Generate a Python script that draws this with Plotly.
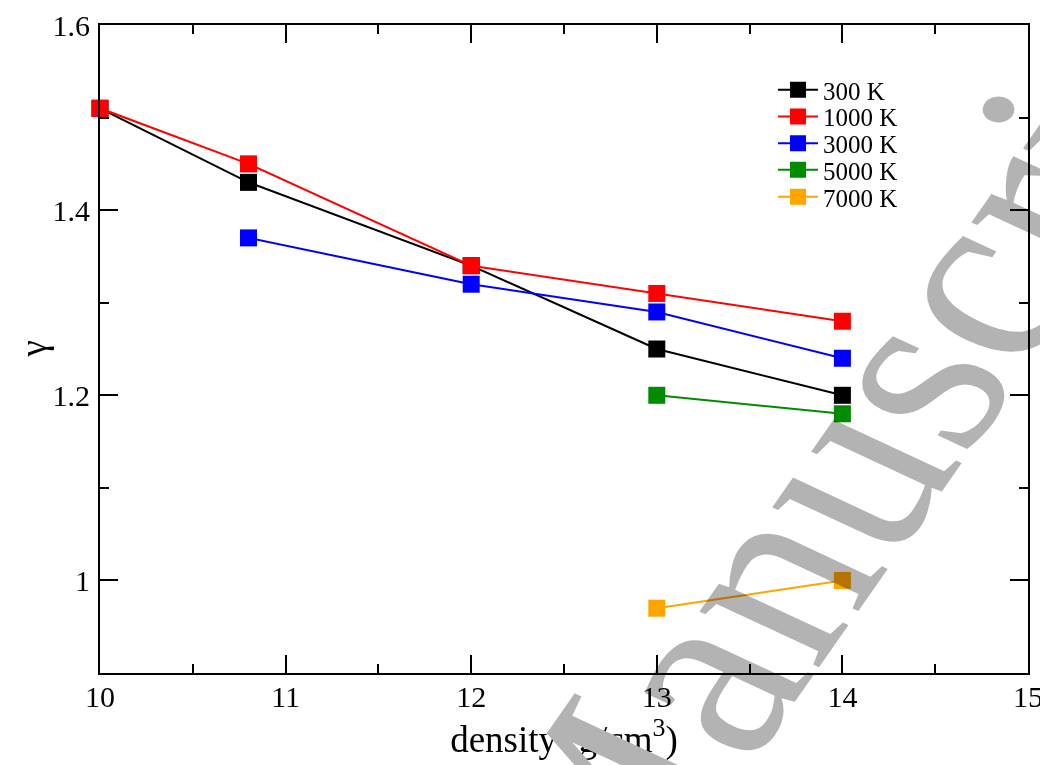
import plotly.graph_objects as go

density_300 = [10, 10.8, 12, 13, 14]
gamma_300 = [1.51, 1.43, 1.34, 1.25, 1.20]
density_1000 = [10, 10.8, 12, 13, 14]
gamma_1000 = [1.51, 1.45, 1.34, 1.31, 1.28]
density_3000 = [10.8, 12, 13, 14]
gamma_3000 = [1.37, 1.32, 1.29, 1.24]
density_5000 = [13, 14]
gamma_5000 = [1.20, 1.18]
density_7000 = [13, 14]
gamma_7000 = [0.97, 1.00]

series = [
    ("300 K", density_300, gamma_300, "#000000"),
    ("1000 K", density_1000, gamma_1000, "#ff0000"),
    ("3000 K", density_3000, gamma_3000, "#0000ff"),
    ("5000 K", density_5000, gamma_5000, "#008b00"),
    ("7000 K", density_7000, gamma_7000, "#ffa500"),
]

FONT = "Liberation Serif"
W, H = 1040, 757
ML, MR, MT, MB = 92, 20, 17, 92
PW, PH = W - ML - MR, H - MT - MB

fig = go.Figure()
legend_ids = ["legend", "legend2", "legend3", "legend4", "legend5"]
for (name, xs, ys, col), lid in zip(series, legend_ids):
    fig.add_trace(go.Scatter(
        x=xs, y=ys, name=name, mode="lines+markers",
        line=dict(color=col, width=2),
        marker=dict(symbol="square", size=17, color=col),
        cliponaxis=False, legend=lid,
    ))

axis_common = dict(
    showline=True, linecolor="black", linewidth=2, mirror="ticks",
    ticks="inside", ticklen=18, tickwidth=1.5, tickcolor="black",
    showgrid=False, zeroline=False, automargin=False,
    tickfont=dict(family=FONT, size=30, color="black"),
)
fig.update_xaxes(range=[10, 15], dtick=1, tick0=10,
                 minor=dict(dtick=0.5, ticks="inside", ticklen=9, tickcolor="black", tickwidth=1.5),
                 title=dict(text="density (g/cm<sup>3</sup>)", font=dict(family=FONT, size=37, color="black"), standoff=9),
                 ticklabelstandoff=-4,
                 **axis_common)
fig.update_yaxes(range=[0.9, 1.6], dtick=0.2, tick0=0,
                 minor=dict(dtick=0.1, ticks="inside", ticklen=9, tickcolor="black", tickwidth=1.5),
                 ticklabelstandoff=2,
                 **axis_common)

# y-axis title (as annotation so it can sit close to the page edge)
fig.add_annotation(
    text="γ", xref="paper", yref="paper", x=0, y=0.5,
    xanchor="center", yanchor="middle", xshift=-(ML - 24.5),
    showarrow=False, textangle=-90,
    font=dict(family=FONT, size=37, color="black"),
)

# watermark (rotated, then squeezed vertically in post_script)
WM_X, WM_Y = 0.8287, 0.3735
WM_SQUEEZE = 0.816
fig.add_annotation(
    text="Manuscript", xref="paper", yref="paper", x=WM_X, y=WM_Y,
    showarrow=False, textangle=-60.3,
    font=dict(family=FONT, size=300, color="#b3b3b3"),
    xanchor="center", yanchor="middle", name="watermark",
)

# legend row centres (figure pixels, from top)
legend_rows_px = [82, 108.7, 135.4, 162, 189]
legend_x = (765 - ML) / PW
layout_legends = {}
for lid, ry in zip(legend_ids, legend_rows_px):
    layout_legends[lid] = dict(
        x=legend_x, y=(MT + PH - ry) / PH, xanchor="left", yanchor="middle",
        bgcolor="rgba(0,0,0,0)", font=dict(family=FONT, size=25, color="black"),
        itemwidth=40, borderwidth=0,
    )

fig.update_layout(
    width=W, height=H,
    margin=dict(l=ML, r=MR, t=MT, b=MB, autoexpand=False),
    plot_bgcolor="white", paper_bgcolor="white",
    showlegend=True,
    **layout_legends,
)

cy = MT + (1 - WM_Y) * PH
post = """
var r = %f, cy = %f;
var anns = document.querySelectorAll('.annotation');
anns.forEach(function(a){
  if (a.getAttribute('data-index') !== '1') { return; }
  var ex = a.getAttribute('transform') || '';
  a.setAttribute('transform', 'translate(0,' + (cy*(1-r)) + ') scale(1,' + r + ') ' + ex);
  var svg = a.ownerSVGElement;
  var mains = document.querySelectorAll('.main-svg');
  if (svg && svg !== mains[0]) { svg.style.mixBlendMode = 'multiply'; }
  else { a.style.mixBlendMode = 'multiply'; }
});
""" % (WM_SQUEEZE, cy)
fig.write_html("out.html", post_script=post)
